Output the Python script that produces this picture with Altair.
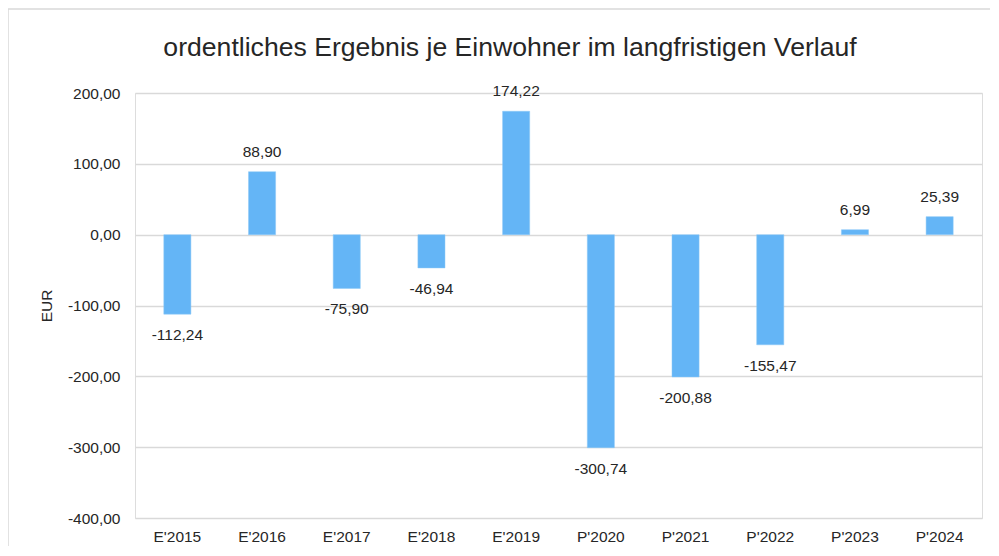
import altair as alt
import pandas as pd

categories = ["E'2015", "E'2016", "E'2017", "E'2018", "E'2019",
              "P'2020", "P'2021", "P'2022", "P'2023", "P'2024"]
values = [-112.24, 88.90, -75.90, -46.94, 174.22,
          -300.74, -200.88, -155.47, 6.99, 25.39]
y_ticks = [-400, -300, -200, -100, 0, 100, 200]
title_text = "ordentliches Ergebnis je Einwohner im langfristigen Verlauf"

df = pd.DataFrame({"cat": categories, "val": values})

FONT = "Liberation Sans"
TXT = "#262626"
FS = 15.5
fmt_expr = "(datum.val < 0 ? '-' : '') + replace(format(abs(datum.val), '.2f'), '.', ',')"
lab_expr = "(datum.value < 0 ? '-' : '') + replace(format(abs(datum.value), '.2f'), '.', ',')"

W, H = 847, 425

x = alt.X("cat:N", sort=categories, title=None,
          scale=alt.Scale(paddingInner=0.68, paddingOuter=0.34),
          axis=alt.Axis(orient="bottom", labelAngle=0, ticks=False, domain=False,
                        labelPadding=11, labelFontSize=FS, labelColor=TXT,
                        labelFont=FONT, grid=False))
y = alt.Y("val:Q", title="EUR",
          scale=alt.Scale(domain=[-400, 200], nice=False),
          axis=alt.Axis(values=y_ticks, labelExpr=lab_expr, ticks=False, domain=False,
                        labelPadding=15, labelFontSize=FS, labelColor=TXT, labelFont=FONT,
                        titleFont=FONT, titleFontSize=FS, titleColor=TXT,
                        titleFontWeight="normal", titlePadding=13,
                        gridColor="#d9d9d9", gridWidth=1.5))

base = alt.Chart(df).transform_calculate(lbl=fmt_expr)

bars = base.mark_bar(color="#64B5F6", stroke="#8cc8f7", strokeWidth=0.5).encode(
    x=x, y=y, y2=alt.datum(0)
)

pos_labels = base.transform_filter("datum.val >= 0").mark_text(
    font=FONT, fontSize=FS, color=TXT, baseline="middle", dy=-20
).encode(x=alt.X("cat:N", sort=categories), y=alt.Y("val:Q"), text="lbl:N")

neg_labels = base.transform_filter("datum.val < 0").mark_text(
    font=FONT, fontSize=FS, color=TXT, baseline="middle", dy=21
).encode(x=alt.X("cat:N", sort=categories), y=alt.Y("val:Q"), text="lbl:N")

one = alt.Data(values=[{}])

frame = alt.Chart(one).mark_rect(
    fill=None, stroke="#d9d9d9", strokeWidth=1.5
).encode(
    x=alt.value(-127), x2=alt.value(W + 40),
    y=alt.value(-84), y2=alt.value(H + 60),
)

title = alt.Chart(one).mark_text(
    font=FONT, fontSize=26.6, color=TXT, align="center", baseline="middle"
).encode(x=alt.value(375), y=alt.value(-45), text=alt.value(title_text))

chart = alt.layer(frame, bars, pos_labels, neg_labels, title).properties(
    width=W, height=H,
    autosize=alt.AutoSizeParams(type="none"),
    padding={"left": 127, "top": 85, "right": 8, "bottom": 28},
).configure_view(stroke=None).configure(background="white")

chart.save("out.html", embed_options={"renderer": "svg", "actions": False})
